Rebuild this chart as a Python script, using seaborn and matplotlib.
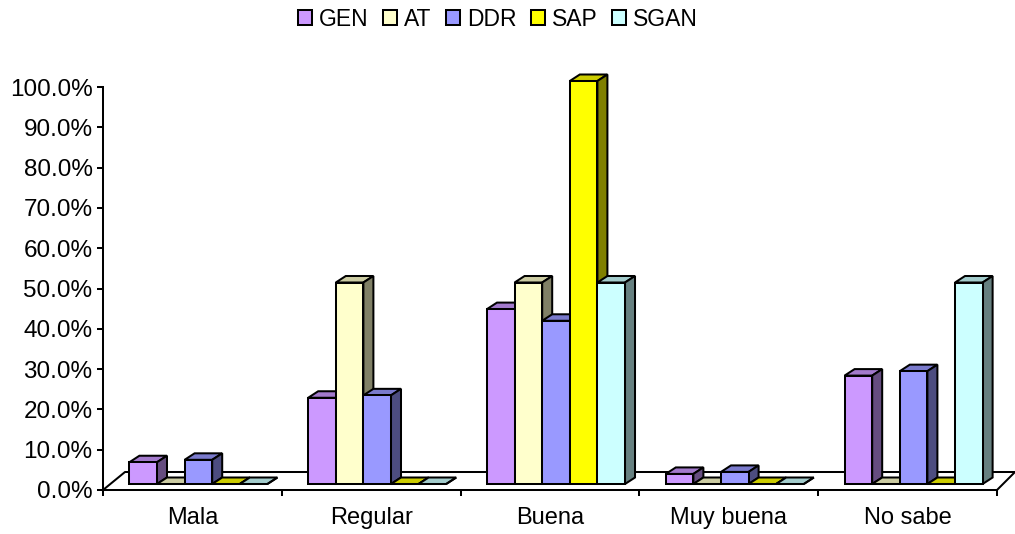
import numpy as np
import pandas as pd
import seaborn as sns
from matplotlib import pyplot as plt
from matplotlib import colors as mcolors
from matplotlib.patches import Patch, Polygon
from matplotlib.ticker import FuncFormatter
from matplotlib.transforms import Affine2D, IdentityTransform

categories = ['Mala', 'Regular', 'Buena', 'Muy buena', 'No sabe']
gen = [5.4, 21.4, 43.4, 2.5, 26.9]
at = [0, 50, 50, 0, 0]
ddr = [6.0, 22.0, 40.5, 3.0, 28.0]
sap = [0, 0, 100, 0, 0]
sgan = [0, 0, 50, 0, 50]
series = ['GEN', 'AT', 'DDR', 'SAP', 'SGAN']
palette = ['#CC99FF', '#FFFFCC', '#9999FF', '#FFFF00', '#CCFFFF']

W, H = 1015, 534
LW = 1.45
FS = 17.5


def shade(col, k):
    return tuple(c * k for c in mcolors.to_rgb(col))


def plot():
    sns.set_style('white')
    plt.rcParams['font.family'] = ['Liberation Sans', 'DejaVu Sans']
    fig = plt.figure(figsize=(W / 100, H / 100), dpi=100)
    ax = fig.add_axes([103 / W, (H - 490) / H, (997 - 103) / W, (490 - 87) / H])

    df = pd.DataFrame({'cat': categories, 'GEN': gen, 'AT': at, 'DDR': ddr, 'SAP': sap, 'SGAN': sgan})
    long_df = df.melt(id_vars='cat', var_name='serie', value_name='valor')
    sns.barplot(data=long_df, x='cat', y='valor', hue='serie', hue_order=series,
                palette=palette, saturation=1, width=0.772, gap=0, legend=False, ax=ax,
                edgecolor='black', linewidth=LW)
    ax.set(xlim=(-0.5, 4.5), ylim=(0, 100), xlabel='', ylabel='')
    fig.canvas.draw()

    # the plain bars get pushed onto the floor, the faces are added in pixels
    dx, dy = 6, 6
    depth_x, depth_y = 10, 6.5
    shift = ax.transData + Affine2D().translate(dx, dy)
    for s, cont in enumerate(ax.containers):
        col = palette[s]
        for c, bar in enumerate(cont):
            z = 5 + c * 10 + s
            bar.set_transform(shift)
            bar.set_clip_on(False)
            bar.set_zorder(z + 0.5)
            (x0, y0) = shift.transform((bar.get_x(), 0))
            (x1, y1) = shift.transform((bar.get_x() + bar.get_width(), bar.get_height()))
            top = [(x0, y1), (x1, y1), (x1 + depth_x, y1 + depth_y), (x0 + depth_x, y1 + depth_y)]
            side = [(x1, y0), (x1 + depth_x, y0 + depth_y), (x1 + depth_x, y1 + depth_y), (x1, y1)]
            for pts, k in ((top, 0.8), (side, 0.5)):
                ax.add_patch(Polygon(pts, closed=True, facecolor=shade(col, k), edgecolor='black',
                                     linewidth=LW, joinstyle='miter', transform=IdentityTransform(),
                                     clip_on=False, zorder=z))

    # floor of the 3d box
    x_l, y_b = ax.transData.transform((-0.5, 0))
    x_r, _ = ax.transData.transform((4.5, 0))
    back = y_b + 18
    floor = ([x_l, x_l + 22, x_r + 18], [y_b, back, back])
    ax.plot(floor[0], floor[1], color='black', lw=LW, transform=IdentityTransform(), clip_on=False, zorder=2)
    ax.plot([x_r, x_r + 18], [y_b, back], color='black', lw=LW, transform=IdentityTransform(),
            clip_on=False, zorder=2)

    sns.despine(ax=ax, top=True, right=True)
    for sp in ('left', 'bottom'):
        ax.spines[sp].set_linewidth(LW)
        ax.spines[sp].set_color('black')

    ax.set_yticks(np.arange(0, 101, 10))
    ax.yaxis.set_major_formatter(FuncFormatter(lambda v, _: '%.1f%%' % v))
    ax.set_xticks(np.arange(-0.5, 5, 1))
    ax.set_xticklabels([])
    ax.set_xticks(np.arange(5), labels=categories, minor=True)
    ax.tick_params(axis='both', which='major', length=4.5, width=LW, color='black',
                   left=True, bottom=True, labelsize=FS, labelcolor='black', pad=2)
    ax.tick_params(axis='y', which='major', pad=3)
    ax.tick_params(axis='x', which='minor', length=0, labelsize=17, labelcolor='black', pad=12)

    handles = [Patch(facecolor=p, edgecolor='black', linewidth=LW, label=n) for p, n in zip(palette, series)]
    fig.legend(handles=handles, loc='center', bbox_to_anchor=(498 / W, (H - 19) / H), ncols=5, frameon=False,
               fontsize=16.5, handlelength=0.62, handleheight=0.62, handletextpad=0.3, columnspacing=0.63,
               borderpad=0, labelcolor='black')

    fig.savefig('out.png', dpi=100)


if __name__ == '__main__':
    plot()
